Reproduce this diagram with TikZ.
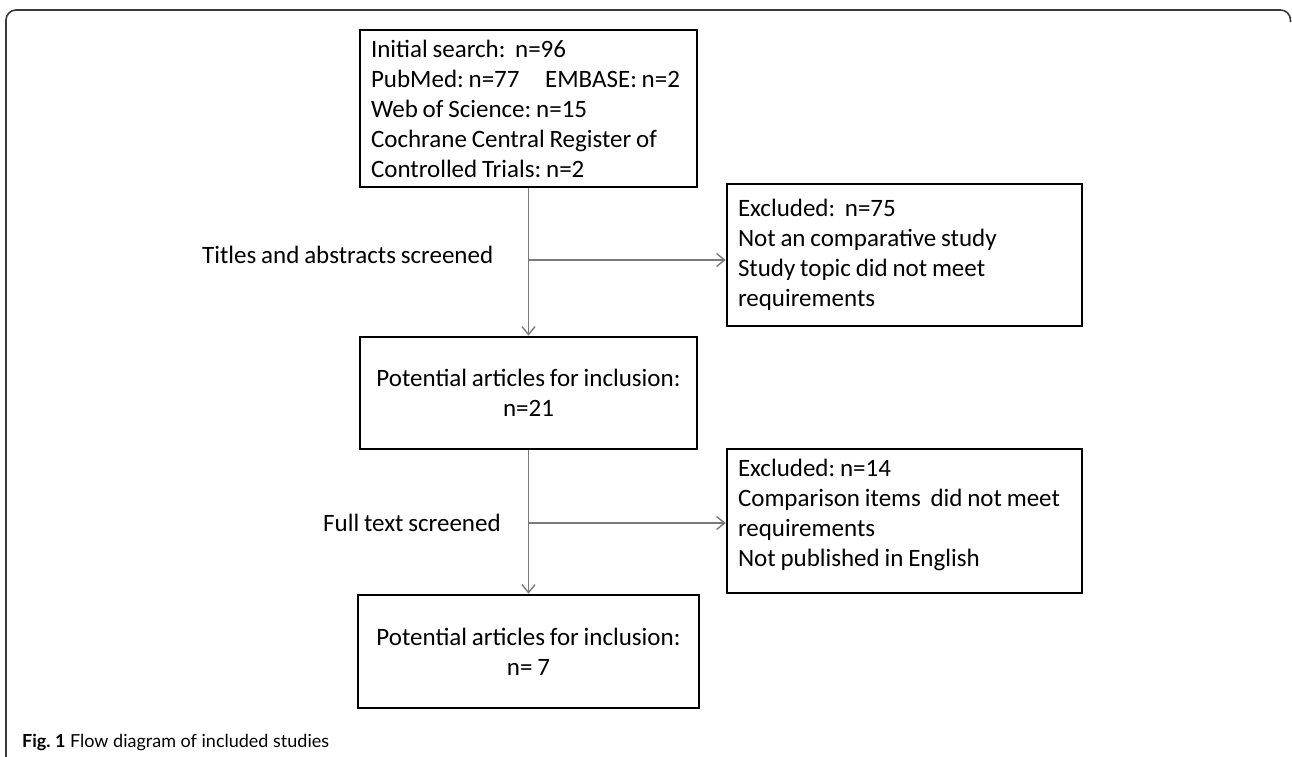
\documentclass[tikz,border=0pt]{standalone}
\usepackage{fontspec}
\setmainfont{Carlito}[WordSpace=0.85]
\newfontfamily\capfont{Lato}
\usetikzlibrary{arrows.meta}
\definecolor{linegray}{HTML}{7A7A7A}
\definecolor{framegray}{HTML}{3A3A3A}
\frenchspacing
\newcommand{\lefttext}[2]{\begin{minipage}{#1}\raggedright #2\end{minipage}}
\begin{document}
\begin{tikzpicture}[x=1pt,y=-1pt,
  box/.style={draw=black, line width=2.6pt, rectangle, inner xsep=11pt, inner ysep=0pt,
              font=\fontsize{25}{30}\selectfont},
  flow/.style={draw=linegray, line width=1.4pt, -{Straight Barb[length=8pt,width=13pt]}},
  lbl/.style={font=\fontsize{25}{30}\selectfont, inner sep=0pt, anchor=west},
  frame/.style={draw=framegray, line width=1.6pt, rounded corners=10pt}]
\useasboundingbox (0,0) rectangle (1292,756);
\draw[frame] (6,757) -- (6,10) -- (1290.5,10) -- (1290.5,22);

\node[box, minimum width=337pt, minimum height=157pt] (src) at (528.5,108.5)
  {\lefttext{315pt}{Initial search:\ \ n=96\\
   \makebox[309pt][l]{PubMed: n=77\hfill EMBASE: n=2}\\
   Web of Science: n=15\\
   Cochrane Central Register of\\
   Controlled Trials: n=2}};

\node[box, minimum width=337pt, minimum height=112pt, align=center] (pot1) at (528.5,393)
  {Potential articles for inclusion:\\ n=21};

\node[box, minimum width=341pt, minimum height=113pt, align=center] (pot2) at (528.5,651.5)
  {Potential articles for inclusion:\\ n=\ 7};

\node[box, minimum width=355pt, minimum height=142pt] (ex1) at (904.5,255)
  {\lefttext{333pt}{Excluded:\ \ n=75\\
   Not an comparative study\\
   Study topic did not meet\\
   requirements}};

\node[box, minimum width=355pt, minimum height=144pt] (ex2) at (904.5,521)
  {\lefttext{333pt}{Excluded: n=14\\
   Comparison items\ \ did not meet\\
   requirements\\
   Not published in English\par\vspace{12pt}}};

\coordinate (b1) at (src.south |- 0,260);
\coordinate (b2) at (pot1.south |- 0,523);

\draw[flow] (src.south) -- (pot1.north);
\draw[flow] (pot1.south) -- (pot2.north);
\draw[flow] (b1) -- (b1 -| ex1.west);
\draw[flow] (b2) -- (b2 -| ex2.west);

\node[lbl] (l1) at (202,255) {Titles and abstracts screened};
\node[lbl] (l2) at (323,523) {Full text screened};

\node[anchor=west, inner sep=0pt, font=\capfont\fontsize{18}{21}\selectfont] (cap) at (22,742)
  {\textbf{Fig. 1} Flow diagram of included studies};
\end{tikzpicture}
\end{document}
